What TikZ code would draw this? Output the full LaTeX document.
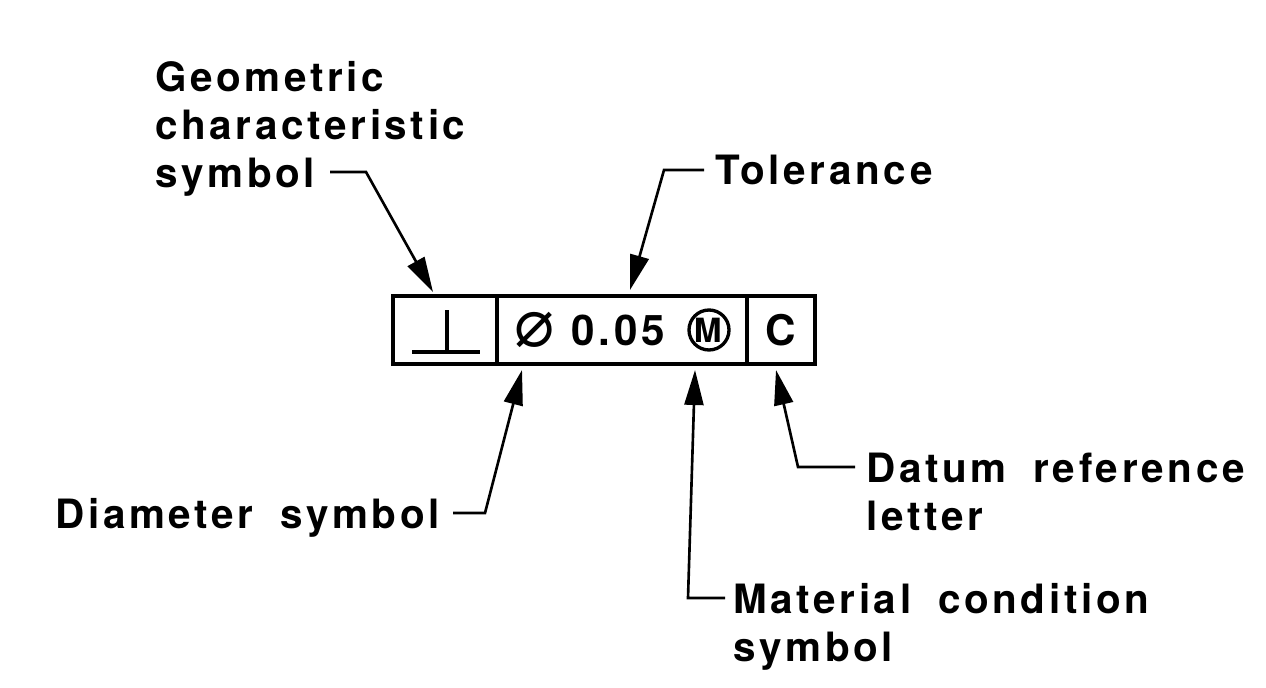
\documentclass[tikz,border=0pt]{standalone}
\usepackage{fontspec}
\setmainfont{TeX Gyre Heros}[LetterSpace=9,WordSpace=1.8]
\newfontfamily\symfont{DejaVu Sans}
\usetikzlibrary{arrows.meta,positioning,calc}
\tikzset{
  cell/.style={draw=black,line width=2.1pt,minimum height=1.36cm,inner sep=0pt,outer sep=0pt},
  lbl/.style={font=\fontsize{23}{27.3}\selectfont\bfseries,align=left,inner sep=0pt,text=black},
  boxtext/.style={font=\fontsize{24}{28}\selectfont\bfseries,inner sep=0pt,text=black},
  mmcbox/.style={circle,draw=black,line width=1.9pt,minimum size=0.8cm,inner sep=0pt,font=\fontsize{19}{19}\selectfont\bfseries},
  leader/.style={-{Triangle[length=7mm,width=3.8mm]},line width=1.5pt,draw=black}
}
\begin{document}
\begin{tikzpicture}[x=0.02cm,y=-0.02cm]
  \useasboundingbox (0,0) rectangle (1266,688);
  % feature control frame
  \node[cell,minimum width=2.08cm] (perp) at (445,330) {};
  \node[cell,minimum width=5cm] (tol) at (622,330) {};
  \node[cell,minimum width=1.36cm] (dat) at (781,330) {};
  \draw[line width=2.1pt] (412,352) -- (480,352) (447,352) -- (447,310);
  \node[inner sep=0pt,font=\fontsize{38}{38}\selectfont\symfont] (diam) at (535,330) {⌀};
  \node[boxtext,anchor=west] (val) at (571,330) {0.05};
  \node[mmcbox] (mmc) at (709,330) {\hspace*{-1.5pt}M};
  \node[boxtext] (letC) at (781,330) {C};

  % labels
  \node[lbl,anchor=north west] (geolbl) at (155,61) {Geometric\\characteristic\\symbol};
  \node[lbl,anchor=base west] (tollbl) at (715,185) {Tolerance};
  \node[lbl,anchor=base west] (diamlbl) at (55,528) {Diameter symbol};
  \node[lbl,anchor=north west] (datlbl) at (866,453) {Datum reference\\letter};
  \node[lbl,anchor=north west] (matlbl) at (733,583) {Material condition\\symbol};

  % leaders
  \coordinate (gtail) at (330,172);
  \coordinate (gtip) at (433,292);
  \coordinate (ttail) at (704,170);
  \coordinate (ttip) at (630,290);
  \coordinate (dtail) at (453,513);
  \coordinate (dtip) at (522,370);
  \coordinate (mtail) at (725,598);
  \coordinate (mtip) at (695,370);
  \coordinate (rtail) at (855,467);
  \coordinate (rtip) at (776,370);
  \draw[leader] (gtail) -- ++(36,0) -- (gtip);
  \draw[leader] (ttail) -- ++(-40,0) -- (ttip);
  \draw[leader] (dtail) -- ++(32,0) -- (dtip);
  \draw[leader] (mtail) -- ++(-37,0) -- (mtip);
  \draw[leader] (rtail) -- ++(-57,0) -- (rtip);
\end{tikzpicture}
\end{document}
